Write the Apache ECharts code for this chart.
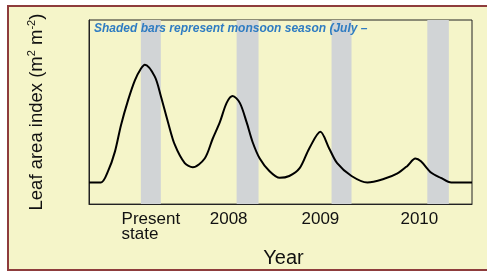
<!DOCTYPE html>
<html>
<head>
<meta charset="utf-8">
<script src="https://cdn.jsdelivr.net/npm/echarts@6/dist/echarts.min.js"></script>
<style>
  html, body { margin: 0; padding: 0; background: #fff; }
  .frame {
    position: absolute; left: 7px; top: 5px; width: 490px; height: 262px;
    border: 2px solid #8e3c3c; background: #f5f5c9;
  }
  #chart { position: absolute; left: 0; top: 0; width: 487px; height: 273px; }
</style>
</head>
<body>
<div class="frame"></div>
<div id="chart"></div>
<script>
// x in months from start of record, y = leaf area index (relative)
const monthX = [0, 1.5, 2.4, 3.25, 4.0, 4.9, 5.75, 6.5, 7.0, 8.25, 9.0, 9.9, 10.75, 12.0, 13.0, 14.5, 15.5, 16.4, 17.25, 18.0, 18.9, 19.75, 20.5, 21.4, 22.6, 23.9, 25.1, 26.4, 27.6, 29.0, 30.1, 31.1, 32.9, 34.9, 37.0, 38.6, 39.9, 40.9, 41.6, 42.9, 44.1, 45.4, 48]
const laiValues = [0.47, 0.47, 0.72, 1.14, 1.71, 2.26, 2.69, 2.94, 3.03, 2.77, 2.35, 1.78, 1.29, 0.89, 0.80, 0.99, 1.42, 1.78, 2.20, 2.35, 2.20, 1.78, 1.35, 0.99, 0.72, 0.57, 0.61, 0.78, 1.21, 1.57, 1.21, 0.89, 0.61, 0.47, 0.55, 0.66, 0.83, 0.99, 0.93, 0.68, 0.57, 0.47, 0.47]

// monsoon bands (start, end) in months
const monsoonStart = [6.5, 18.5, 30.4, 42.4]
const monsoonEnd = [9.0, 21.25, 32.9, 45.1]

const tickPos = [7.75, 17.5, 29, 41.4]
const tickLabels = ['Present\nstate', '2008', '2009', '2010']

const font = 'Liberation Sans, Arial, sans-serif'

const chart = echarts.init(document.getElementById('chart'))

const option = {
  animation: false,
  backgroundColor: 'transparent',
  title: {
    text: 'Shaded bars represent monsoon season (July –',
    left: 94,
    top: 23,
    padding: 0,
    textStyle: { fontFamily: font, fontSize: 12, fontWeight: 'bold', fontStyle: 'italic', color: '#2f7cc2' }
  },
  grid: { left: 89, right: 15, top: 20, bottom: 64, show: true, borderColor: '#222', borderWidth: 1, backgroundColor: 'transparent' },
  xAxis: {
    type: 'value',
    min: 0,
    max: 48,
    name: 'Year',
    nameLocation: 'middle',
    nameGap: 40,
    nameTextStyle: { fontFamily: font, fontSize: 20, color: '#111', padding: [0, 0, 0, 6] },
    axisLine: { lineStyle: { color: '#222', width: 1 } },
    axisTick: { show: false },
    splitLine: { show: false },
    axisLabel: {
      customValues: tickPos,
      margin: 8,
      fontFamily: font,
      fontSize: 17,
      color: '#111',
      formatter: (v) => {
        const i = tickPos.indexOf(v)
        if (i < 0) return ''
        return tickLabels[i].split('\n').map(s => `{l|${s}}`).join('\n')
      },
      rich: { l: { fontFamily: font, fontSize: 17, color: '#111', align: 'left', lineHeight: 15 } }
    }
  },
  yAxis: {
    type: 'value',
    min: 0,
    max: 4,
    name: '{t|Leaf area index (m}{s|2}{t| m}{s|-2}{t|)}',
    nameLocation: 'middle',
    nameRotate: 90,
    nameGap: 41,
    nameTextStyle: {
      rich: {
        t: { fontFamily: font, fontSize: 18.5, color: '#111', lineHeight: 22 },
        s: { fontFamily: font, fontSize: 11, color: '#111', verticalAlign: 'top', lineHeight: 22, padding: [0, 0, 8, 0] }
      }
    },
    axisLine: { show: true, lineStyle: { color: '#222', width: 1 } },
    axisTick: { show: false },
    axisLabel: { show: false },
    splitLine: { show: false }
  },
  series: [
    {
      name: 'monsoon',
      type: 'line',
      data: [],
      silent: true,
      markArea: {
        silent: true,
        itemStyle: { color: '#d1d4d6' },
        data: monsoonStart.map((s, i) => [{ xAxis: s }, { xAxis: monsoonEnd[i] }])
      }
    },
    {
      name: 'LAI',
      type: 'line',
      z: 5,
      smooth: 0.3,
      showSymbol: false,
      lineStyle: { color: '#000', width: 2 },
      data: monthX.map((x, i) => [x, laiValues[i]])
    }
  ]
}

chart.setOption(option)
</script>
</body>
</html>
